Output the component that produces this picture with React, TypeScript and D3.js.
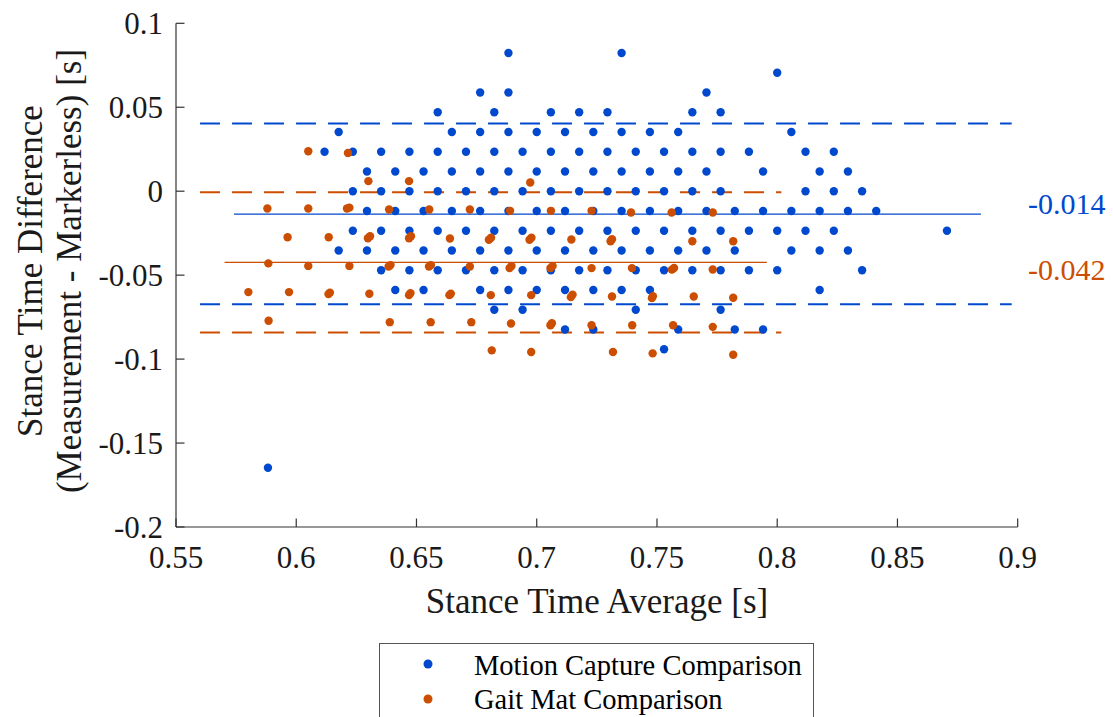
import React from 'react';
import * as d3 from 'd3';

// Motion capture comparison sits on a frame grid (1/85 s):
// difference level in frames, and the averages on that level in 1/170 s
const motionLevels = [7, 6, 5, 4, 3, 2, 1, 0, -1, -2, -3, -4, -5, -6, -7, -8, -14];
const motionAverages = [
  [117, 125],
  [136],
  [115, 117, 131],
  [112, 116, 120, 122, 124, 130, 132],
  [105, 113, 115, 117, 119, 121, 123, 125, 127, 129, 137],
  [104, 106, 108, 110, 112, 114, 116, 118, 120, 122, 124, 126, 128, 130, 132, 134, 138, 140],
  [107, 109, 111, 113, 115, 117, 119, 121, 123, 125, 127, 129, 131, 135, 139, 141],
  [106, 108, 110, 112, 114, 116, 118, 120, 122, 124, 126, 128, 130, 132, 138, 140, 142],
  [107, 109, 111, 113, 115, 117, 119, 121, 123, 125, 127, 129, 131, 133, 135, 137, 139, 141, 143],
  [106, 108, 110, 112, 114, 116, 118, 120, 122, 124, 126, 128, 130, 132, 134, 136, 138, 140, 148],
  [105, 107, 109, 111, 113, 115, 117, 119, 121, 123, 125, 127, 129, 131, 133, 137, 139, 141],
  [108, 110, 112, 114, 116, 118, 120, 122, 124, 126, 128, 130, 132, 134, 136, 142],
  [109, 111, 115, 117, 119, 121, 123, 125, 127, 139],
  [116, 118, 126, 132],
  [121, 123, 129, 133, 135],
  [128],
  [100],
];

// Gait mat comparison [average, difference] in seconds
const gaitMat: [number, number][] = [
  [0.605, 0.0238], [0.6215, 0.0228], [0.63, 0.006], [0.6469, 0.006], [0.6973, 0.0052],
  [0.588, -0.0103], [0.605, -0.0103], [0.6211, -0.0103], [0.6221, -0.0098], [0.6386, -0.0109],
  [0.6553, -0.0109], [0.6722, -0.0109], [0.6889, -0.0117], [0.7059, -0.0117], [0.7228, -0.0117],
  [0.7392, -0.0127], [0.7561, -0.0127], [0.7732, -0.0127],
  [0.5964, -0.0274], [0.6135, -0.0274], [0.6298, -0.028], [0.6307, -0.0268], [0.6469, -0.028],
  [0.6477, -0.0268], [0.6639, -0.0282], [0.6801, -0.0289], [0.681, -0.0277], [0.697, -0.0289],
  [0.6978, -0.0277], [0.7144, -0.0288], [0.7307, -0.0298], [0.7313, -0.0286], [0.7647, -0.0298],
  [0.7817, -0.0298],
  [0.5884, -0.043], [0.605, -0.0445], [0.6221, -0.0445], [0.6384, -0.0449], [0.6392, -0.044],
  [0.6552, -0.0449], [0.656, -0.044], [0.6722, -0.0448], [0.6887, -0.0458], [0.6895, -0.0446],
  [0.7057, -0.0458], [0.7066, -0.0446], [0.7228, -0.0458], [0.7396, -0.0458], [0.7562, -0.0467],
  [0.7571, -0.0457], [0.7732, -0.0466],
  [0.5801, -0.0601], [0.597, -0.0601], [0.6134, -0.0613], [0.614, -0.0604], [0.6304, -0.0611],
  [0.6469, -0.0619], [0.6475, -0.0607], [0.6637, -0.0619], [0.6643, -0.061], [0.6809, -0.0619],
  [0.6977, -0.0619], [0.7142, -0.0631], [0.7149, -0.0616], [0.7313, -0.0627], [0.7479, -0.0637],
  [0.7483, -0.0625], [0.7653, -0.0627], [0.7817, -0.0635],
  [0.5885, -0.0772], [0.6389, -0.078], [0.6559, -0.078], [0.6728, -0.078], [0.6893, -0.0788],
  [0.7057, -0.0798], [0.7063, -0.0786], [0.7228, -0.0798], [0.7397, -0.0798], [0.7567, -0.0798],
  [0.7732, -0.0808],
  [0.6813, -0.0948], [0.6977, -0.0958], [0.7317, -0.0958], [0.7482, -0.0966], [0.7817, -0.0974],
];

// bias and limits of agreement
const motionBias = -0.0137;
const motionLimits = [0.0403, -0.0674];
const motionBiasSpan = [0.5741, 0.8847];
const motionLimitSpan = [0.56, 0.8975];
const gaitBias = -0.0424;
const gaitLimits = [-0.0006, -0.0842];
const gaitBiasSpan = [0.5702, 0.7957];
const gaitLimitSpan = [0.56, 0.8017];

const xTicks = [0.55, 0.6, 0.65, 0.7, 0.75, 0.8, 0.85, 0.9];
const yTicks = [0.1, 0.05, 0, -0.05, -0.1, -0.15, -0.2];
const legendLabels = ['Motion Capture Comparison', 'Gait Mat Comparison'];

const BLUE = '#0049CE';
const ORANGE = '#CC4E02';
const AXIS = '#333333';
const FONT = "'Liberation Serif', 'Times New Roman', serif";

export default function App() {
  const width = 1113;
  const height = 717;
  const x = d3.scaleLinear().domain([0.55, 0.9]).range([176, 1017.7]);
  const y = d3.scaleLinear().domain([-0.2, 0.1]).range([527, 23.3]);

  const motion: [number, number][] = [];
  motionLevels.forEach((k, i) => {
    motionAverages[i].forEach((m) => motion.push([m / 170, k / 85]));
  });

  const fmt = (v: number) => (Math.abs(v) < 1e-9 ? '0' : String(+v.toFixed(2)));
  const line = d3.line<[number, number]>().x((d) => x(d[0])).y((d) => y(d[1]));

  const hline = (span: number[], v: number): [number, number][] => [
    [span[0], v],
    [span[1], v],
  ];

  return (
    <svg
      width={width}
      height={height}
      style={{ position: 'absolute', left: 0, top: 0, background: '#fff' }}
      fontFamily={FONT}
    >
      {/* limits of agreement */}
      {motionLimits.map((v, i) => (
        <path key={'ml' + i} d={line(hline(motionLimitSpan, v)) || ''} stroke={BLUE}
          strokeWidth={2} strokeDasharray="20 12" fill="none" />
      ))}
      {gaitLimits.map((v, i) => (
        <path key={'gl' + i} d={line(hline(gaitLimitSpan, v)) || ''} stroke={ORANGE}
          strokeWidth={2} strokeDasharray="20 12" fill="none" />
      ))}
      <path d={line(hline(motionBiasSpan, motionBias)) || ''} stroke={BLUE} strokeWidth={1.3} fill="none" />
      <path d={line(hline(gaitBiasSpan, gaitBias)) || ''} stroke={ORANGE} strokeWidth={1.3} fill="none" />

      {/* points */}
      <g fill={BLUE}>
        {motion.map((d, i) => (
          <circle key={i} cx={x(d[0])} cy={y(d[1])} r={4.2} />
        ))}
      </g>
      <g fill={ORANGE}>
        {gaitMat.map((d, i) => (
          <circle key={i} cx={x(d[0])} cy={y(d[1])} r={4.2} />
        ))}
      </g>

      {/* bias labels */}
      <text x={1028} y={214} fontSize={30} fill={BLUE}>{motionBias.toFixed(3)}</text>
      <text x={1028} y={280} fontSize={30} fill={ORANGE}>{gaitBias.toFixed(3)}</text>

      {/* axes */}
      <g stroke={AXIS} strokeWidth={1.2} fill="none">
        <line x1={x(0.55)} x2={x(0.9)} y1={y(-0.2)} y2={y(-0.2)} />
        <line x1={x(0.55)} x2={x(0.55)} y1={y(-0.2)} y2={y(0.1)} />
        {xTicks.map((t) => (
          <line key={'xt' + t} x1={x(t)} x2={x(t)} y1={y(-0.2)} y2={y(-0.2) - 8.5} />
        ))}
        {yTicks.map((t) => (
          <line key={'yt' + t} x1={x(0.55)} x2={x(0.55) + 8.5} y1={y(t)} y2={y(t)} />
        ))}
      </g>
      <g fontSize={31} fill="#1a1a1a">
        {xTicks.map((t) => (
          <text key={'xl' + t} x={x(t)} y={568} textAnchor="middle">{fmt(t)}</text>
        ))}
        {yTicks.map((t) => (
          <text key={'yl' + t} x={163} y={y(t) + 10.5} textAnchor="end">{fmt(t)}</text>
        ))}
      </g>
      <text x={597} y={613} fontSize={35} textAnchor="middle" fill="#1a1a1a">
        Stance Time Average [s]
      </text>
      <g transform="translate(0,271) rotate(-90)" fontSize={35} fill="#1a1a1a" textAnchor="middle">
        <text x={0} y={42}>Stance Time Difference</text>
        <text x={0} y={81}>(Measurement - Markerless) [s]</text>
      </g>

      {/* legend */}
      <rect x={379.5} y={643.5} width={434} height={100} fill="#fff" stroke="#555" strokeWidth={1} />
      {legendLabels.map((lab, i) => (
        <g key={lab}>
          <circle cx={428} cy={664 + i * 35} r={4.5} fill={i === 0 ? BLUE : ORANGE} />
          <text x={474} y={675 + i * 34} fontSize={28.5} fill="#000">{lab}</text>
        </g>
      ))}
    </svg>
  );
}
